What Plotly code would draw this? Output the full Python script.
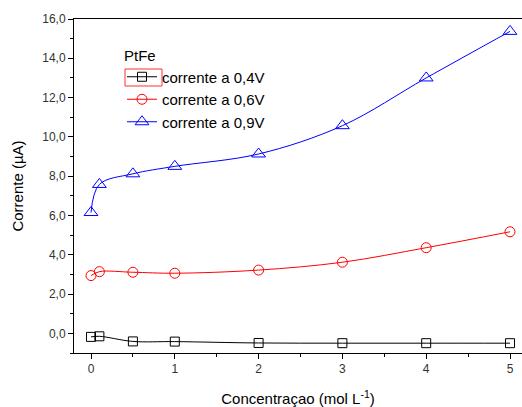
import plotly.graph_objects as go

# Concentration (mol L^-1) and current (uA) at three potentials
conc = [0, 0.1, 0.5, 1, 2, 3, 4, 5]
i_04 = [-0.18, -0.15, -0.41, -0.42, -0.49, -0.50, -0.50, -0.50]
i_06 = [2.94, 3.14, 3.11, 3.06, 3.22, 3.62, 4.36, 5.17]
i_09 = [6.15, 7.58, 8.12, 8.50, 9.13, 10.57, 13.0, 15.37]

series_names = ["corrente a 0,4V", "corrente a 0,6V", "corrente a 0,9V"]
x_ticks = [0, 1, 2, 3, 4, 5]
y_ticks = [0, 2, 4, 6, 8, 10, 12, 14, 16]

W, H = 522, 407
ML, MT, MB, MR = 74, 19, 54, 0
FONT = "Liberation Sans, Arial, sans-serif"

fig = go.Figure()
styles = [
    (i_04, "#000000", "square-open", 9),
    (i_06, "#ff0000", "circle-open", 10),
    (i_09, "#0000ff", "triangle-up-open", 12),
]
for (vals, col, sym, sz), name in zip(styles, series_names):
    fig.add_trace(go.Scatter(
        x=conc, y=vals, name=name, mode="lines+markers",
        line=dict(color=col, width=1, shape="spline", smoothing=1.0),
        marker=dict(symbol=sym, size=sz, color=col, line=dict(color=col, width=1)),
    ))

pw = W - ML - MR
ph = H - MT - MB

def px_x(p):
    return (p - ML) / pw

def px_y(p):
    return (H - MB - p) / ph

# thin red frame around the first legend sample
fig.add_shape(type="rect", xref="paper", yref="paper",
              x0=px_x(125), x1=px_x(162), y0=px_y(86), y1=px_y(69),
              line=dict(color="#ff3030", width=1), fillcolor="rgba(0,0,0,0)")

fig.update_layout(
    width=W, height=H,
    margin=dict(l=ML, r=MR, t=MT, b=MB),
    paper_bgcolor="white", plot_bgcolor="white",
    separators=", ",
    font=dict(family=FONT, color="#000"),
    showlegend=True,
    legend=dict(
        title=dict(text="PtFe", font=dict(size=15, family=FONT)),
        x=px_x(122), y=px_y(41), xanchor="left", yanchor="top",
        bgcolor="rgba(0,0,0,0)", borderwidth=0,
        font=dict(size=15, family=FONT), tracegroupgap=0,
        itemwidth=30,
    ),
    xaxis=dict(
        range=[-17 / 83.8, 5 + 12 / 83.8],
        tickvals=x_ticks, ticktext=[str(v) for v in x_ticks],
        ticks="outside", ticklen=5, tickcolor="#000", tickwidth=1,
        minor=dict(dtick=0.5, tick0=0, ticks="outside", ticklen=3, tickcolor="#000"),
        showline=True, linecolor="#000", linewidth=1, mirror=True,
        showgrid=False, zeroline=False,
        tickfont=dict(size=12, color="#333", family=FONT),
        title=dict(text="Concentraçao (mol L<sup>-1</sup>)", font=dict(size=15, family=FONT), standoff=18),
    ),
    yaxis=dict(
        range=[-1, 16],
        tickvals=y_ticks, tickformat=".1f",
        ticks="outside", ticklen=5, tickcolor="#000", tickwidth=1,
        minor=dict(dtick=1, tick0=0, ticks="outside", ticklen=3, tickcolor="#000"),
        showline=True, linecolor="#000", linewidth=1,
        showgrid=False, zeroline=False,
        tickfont=dict(size=12, color="#333", family=FONT),
        title=dict(text="Corrente (µA)", font=dict(size=15, family=FONT), standoff=14),
    ),
)

fig.write_html("out.html")
